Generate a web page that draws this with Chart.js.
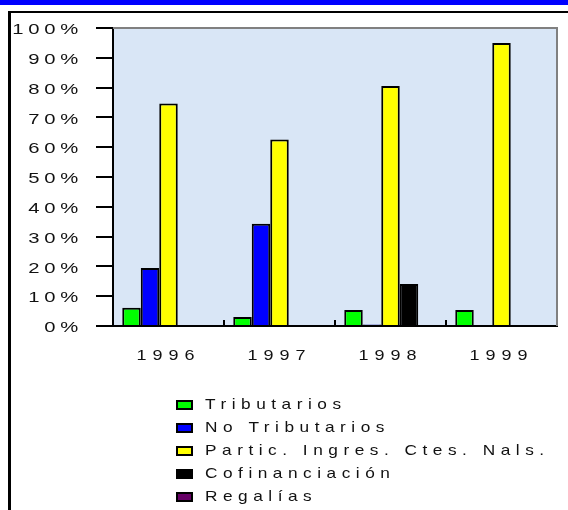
<!DOCTYPE html>
<html>
<head>
<meta charset="utf-8">
<script src="https://cdn.jsdelivr.net/npm/chart.js@4.4.0/dist/chart.umd.min.js"></script>
<style>
  body { margin: 0; background: #fff; }
  #wrap { position: relative; width: 568px; height: 510px; overflow: hidden; }
  #topband { position: absolute; left: 0; top: 0; width: 568px; height: 5px; background: #0000ff; }
  #frame { position: absolute; left: 8px; top: 11px; width: 600px; height: 600px; border-left: 3px solid #000; border-top: 2px solid #000; }
  canvas { position: absolute; left: 0; top: 0; }
</style>
</head>
<body>
<div id="wrap">
  <div id="topband"></div>
  <div id="frame"></div>
  <canvas id="chart" width="568" height="510"></canvas>
</div>
<script>
// values in percent
const years = ['1996', '1997', '1998', '1999'];
const tributarios = [6.1, 3.0, 5.4, 5.4];
const noTributarios = [19.5, 34.3, 0.5, 0];
const partic = [74.7, 62.6, 80.5, 95];
const cofinanciacion = [0, 0, 14.1, 0];
const regalias = [0, 0, 0, 0];
const yTickLabels = ['0%', '10%', '20%', '30%', '40%', '50%', '60%', '70%', '80%', '90%', '100%'];

const seriesNames = ['Tributarios', 'No Tributarios', 'Partic. Ingres. Ctes. Nals.', 'Cofinanciación', 'Regalías'];
const seriesColors = ['#00ff00', '#0000ff', '#ffff00', '#000000', '#660066'];
const seriesData = [tributarios, noTributarios, partic, cofinanciacion, regalias];

const FONT = '15px "Liberation Sans", Arial, sans-serif';

function stretchText(ctx, text, x, y, sx, ls, align) {
  ctx.save();
  ctx.font = FONT;
  ctx.fillStyle = '#111';
  ctx.textBaseline = 'middle';
  ctx.textAlign = 'left';
  ctx.letterSpacing = ls + 'px';
  let w = ctx.measureText(text).width * sx;
  let x0 = x;
  if (align === 'right') x0 = x - w;
  if (align === 'center') x0 = x - w / 2;
  ctx.translate(x0, y);
  ctx.scale(sx, 1);
  ctx.fillText(text, 0, 0);
  ctx.restore();
}

const decor = {
  id: 'decor',
  beforeDraw(chart) {
    const a = chart.chartArea;
    const ctx = chart.ctx;
    ctx.save();
    ctx.fillStyle = '#d9e6f6';
    ctx.fillRect(a.left, a.top, a.right - a.left, a.bottom - a.top);
    ctx.restore();
  },
  afterDraw(chart) {
    const a = chart.chartArea;
    const ctx = chart.ctx;
    const xs = chart.scales.x;
    const ys = chart.scales.y;

    // grey frame on top and right of the plot
    ctx.save();
    ctx.strokeStyle = '#808080';
    ctx.lineWidth = 2;
    ctx.beginPath();
    ctx.moveTo(a.left, a.top);
    ctx.lineTo(a.right, a.top);
    ctx.lineTo(a.right, a.bottom);
    ctx.stroke();

    // small inward ticks between categories
    ctx.strokeStyle = '#000';
    ctx.lineWidth = 2;
    for (let i = 1; i < years.length; i++) {
      let x = Math.round((xs.getPixelForValue(i - 1) + xs.getPixelForValue(i)) / 2);
      ctx.beginPath();
      ctx.moveTo(x, a.bottom);
      ctx.lineTo(x, a.bottom - 6);
      ctx.stroke();
    }
    ctx.restore();

    // y labels
    ys.ticks.forEach((t, i) => {
      let y = ys.getPixelForValue(t.value);
      stretchText(ctx, yTickLabels[i], 83, y + 2, 1.35, 3.5, 'right');
    });

    // x labels
    years.forEach((yr, i) => {
      stretchText(ctx, yr, xs.getPixelForValue(i), 356, 1.2, 5, 'center');
    });

    // legend
    chart.data.datasets.forEach((ds, i) => {
      let y = 405 + i * 23;
      ctx.save();
      ctx.fillStyle = ds.backgroundColor;
      ctx.fillRect(177, y - 4, 15, 8);
      ctx.strokeStyle = '#000';
      ctx.lineWidth = 2;
      ctx.strokeRect(177, y - 4, 15, 8);
      ctx.restore();
      stretchText(ctx, ds.label, 205, y, 1.15, 4.8, 'left');
    });
  }
};

new Chart(document.getElementById('chart'), {
  type: 'bar',
  data: {
    labels: years,
    datasets: seriesNames.map((name, i) => ({
      label: name,
      data: seriesData[i],
      backgroundColor: seriesColors[i],
      borderColor: '#000',
      borderWidth: 2,
      categoryPercentage: 5 / 6,
      barPercentage: 1
    }))
  },
  options: {
    responsive: false,
    animation: false,
    layout: { padding: { top: 28, right: 11, bottom: 124, left: 0 } },
    plugins: { legend: { display: false }, tooltip: { enabled: false } },
    scales: {
      x: {
        grid: { display: false },
        border: { color: '#000', width: 2 },
        ticks: { display: false },
        afterFit(scale) { scale.height = 60; }
      },
      y: {
        min: 0,
        max: 100,
        ticks: { display: false, stepSize: 10 },
        grid: { drawOnChartArea: false, drawTicks: true, tickLength: 17, color: '#000', lineWidth: 2 },
        border: { color: '#000', width: 2 },
        afterFit(scale) { scale.width = 113; }
      }
    }
  },
  plugins: [decor]
});
</script>
</body>
</html>
